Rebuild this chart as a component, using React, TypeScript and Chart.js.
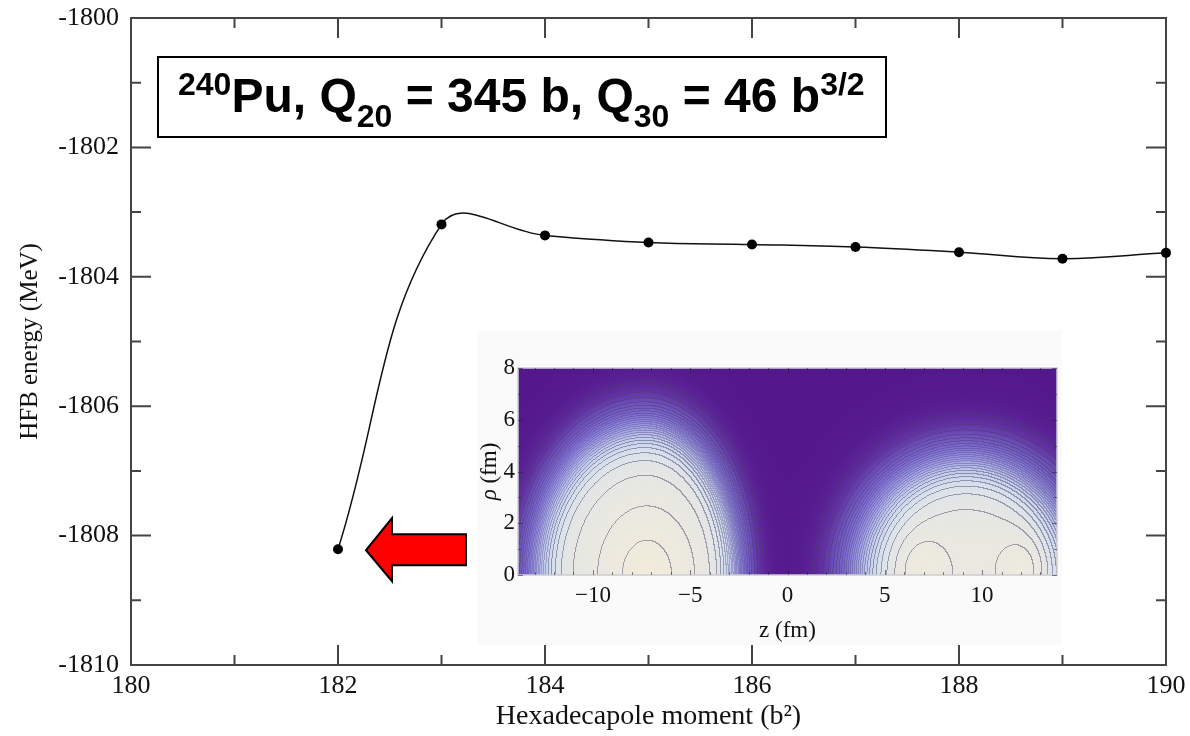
import { useEffect, useRef } from 'react';
import { Chart, registerables } from 'chart.js';

Chart.register(...registerables);

// HFB energy along the hexadecapole path
const moments = [182, 183, 184, 185, 186, 187, 188, 189, 190];
const energies = [-1808.21, -1803.19, -1803.36, -1803.47, -1803.5, -1803.54, -1803.62, -1803.72, -1803.63];

const xTickValues = [180, 182, 184, 186, 188, 190];
const yTickValues = [-1810, -1808, -1806, -1804, -1802, -1800];
const xMinorValues = [180, 181, 182, 183, 184, 185, 186, 187, 188, 189, 190];
const yMinorValues = [-1810, -1809, -1808, -1807, -1806, -1805, -1804, -1803, -1802, -1801, -1800];

// Inset: density of the two fragments in the (z, rho) plane
const zTickValues = [-10, -5, 0, 5, 10];
const rhoTickValues = [0, 2, 4, 6, 8];
const zMinorValues = [-13, -12, -11, -10, -9, -8, -7, -6, -5, -4, -3, -2, -1, 0, 1, 2, 3, 4, 5, 6, 7, 8, 9, 10, 11, 12, 13];
const rhoMinorValues = [0, 1, 2, 3, 4, 5, 6, 7, 8];

const fragmentCenter = [-7.3, 9.2];
const fragmentOuterRho = [7.42, 6.18];
const fragmentOuterZLeft = [7.3, 7.8];
const fragmentOuterZRight = [6.1, 7.8];
const fragmentSurfaceWidth = [0.066, 0.081];

const bumpZ = [-7.2, 6.9, 12.2, 9.3];
const bumpRho = [0, 0.2, 0.3, 0];
const bumpAmp = [0.1, 0.055, 0.055, 0.03];
const bumpSigmaZ = [1.9, 0.9, 0.9, 3.5];
const bumpSigmaRho = [2.0, 0.9, 0.9, 2.2];

const contourStep = 0.04;

const cmapStops = [0, 0.04, 0.15, 0.35, 0.55, 0.75, 0.9, 0.98, 1.1];
const cmapColors = [
  [84, 24, 140],
  [92, 40, 152],
  [108, 78, 185],
  [128, 112, 212],
  [155, 152, 228],
  [190, 200, 236],
  [214, 224, 236],
  [228, 230, 229],
  [240, 235, 219],
];

const SERIF = '"Liberation Serif", "Times New Roman", serif';
const SANS = '"Liberation Sans", Arial, sans-serif';

function density(z: number, r: number): number {
  let f = 0;
  for (let k = 0; k < fragmentCenter.length; k++) {
    const dz = z - fragmentCenter[k];
    const az = dz < 0 ? fragmentOuterZLeft[k] : fragmentOuterZRight[k];
    const d = Math.sqrt((dz / az) ** 2 + (r / fragmentOuterRho[k]) ** 2);
    const w = fragmentSurfaceWidth[k];
    const dHalf = 1 - w * Math.log(1 / contourStep - 1);
    f += 1 / (1 + Math.exp((d - dHalf) / w));
  }
  let b = 1;
  for (let k = 0; k < bumpZ.length; k++) {
    const dz = z - bumpZ[k];
    const dr = r - bumpRho[k];
    b += bumpAmp[k] * Math.exp(-(dz * dz) / (2 * bumpSigmaZ[k] ** 2) - (dr * dr) / (2 * bumpSigmaRho[k] ** 2));
  }
  return f * b;
}

function colorAt(f: number): number[] {
  if (f <= cmapStops[0]) return cmapColors[0];
  for (let i = 1; i < cmapStops.length; i++) {
    if (f <= cmapStops[i]) {
      const t = (f - cmapStops[i - 1]) / (cmapStops[i] - cmapStops[i - 1]);
      const a = cmapColors[i - 1];
      const b = cmapColors[i];
      return [a[0] + (b[0] - a[0]) * t, a[1] + (b[1] - a[1]) * t, a[2] + (b[2] - a[2]) * t];
    }
  }
  return cmapColors[cmapColors.length - 1];
}

const densityPlugin = {
  id: 'densityField',
  beforeDraw(chart: any) {
    const { ctx, width, height } = chart;
    ctx.save();
    ctx.fillStyle = '#fafafa';
    ctx.fillRect(0, 0, width, height);
    ctx.restore();
  },
  beforeDatasetsDraw(chart: any) {
    const { ctx, chartArea: a, scales } = chart;
    const x0 = Math.round(a.left);
    const y0 = Math.round(a.top);
    const w = Math.round(a.right) - x0;
    const h = Math.round(a.bottom) - y0;
    const W = w + 1;
    const F = new Float32Array(W * (h + 1));
    for (let j = 0; j <= h; j++) {
      const r = Math.max(0, scales.y.getValueForPixel(y0 + j + 0.5));
      for (let i = 0; i <= w; i++) {
        const z = scales.x.getValueForPixel(x0 + i + 0.5);
        F[j * W + i] = density(z, r);
      }
    }
    const img = ctx.createImageData(w, h);
    const data = img.data;
    const lineCol = [70, 60, 100];
    for (let j = 0; j < h; j++) {
      for (let i = 0; i < w; i++) {
        const f = F[j * W + i];
        const fr = F[j * W + i + 1];
        const fb = F[(j + 1) * W + i];
        let c = colorAt(f);
        const L = Math.floor(f / contourStep);
        if (L !== Math.floor(fr / contourStep) || L !== Math.floor(fb / contourStep)) {
          const g = Math.sqrt((fr - f) ** 2 + (fb - f) ** 2) / contourStep;
          const spacing = g > 0 ? 1 / g : 10;
          const alpha = 0.45 * Math.min(1, Math.max(0.55, spacing / 3));
          c = [c[0] + (lineCol[0] - c[0]) * alpha, c[1] + (lineCol[1] - c[1]) * alpha, c[2] + (lineCol[2] - c[2]) * alpha];
        }
        const p = (j * w + i) * 4;
        data[p] = c[0];
        data[p + 1] = c[1];
        data[p + 2] = c[2];
        data[p + 3] = 255;
      }
    }
    ctx.putImageData(img, x0, y0);

    // light frame and small inward ticks
    ctx.save();
    ctx.strokeStyle = 'rgba(205,205,210,1)';
    ctx.lineWidth = 1.5;
    ctx.strokeRect(a.left, a.top, a.right - a.left, a.bottom - a.top);
    ctx.strokeStyle = 'rgba(40,30,60,0.55)';
    ctx.lineWidth = 1;
    ctx.beginPath();
    for (const v of zMinorValues) {
      const px = Math.round(scales.x.getPixelForValue(v)) + 0.5;
      const len = zTickValues.includes(v) ? 5 : 3;
      ctx.moveTo(px, a.bottom);
      ctx.lineTo(px, a.bottom - len);
      ctx.moveTo(px, a.top);
      ctx.lineTo(px, a.top + len);
    }
    for (const v of rhoMinorValues) {
      const py = Math.round(scales.y.getPixelForValue(v)) + 0.5;
      const len = rhoTickValues.includes(v) ? 5 : 3;
      ctx.moveTo(a.left, py);
      ctx.lineTo(a.left + len, py);
      ctx.moveTo(a.right, py);
      ctx.lineTo(a.right - len, py);
    }
    ctx.stroke();

    // rotated axis title with italic rho
    ctx.fillStyle = '#111';
    ctx.translate(12, (a.top + a.bottom) / 2);
    ctx.rotate(-Math.PI / 2);
    ctx.textBaseline = 'middle';
    ctx.font = `italic 23px ${SERIF}`;
    const rho = 'ρ';
    const rest = ' (fm)';
    const w1 = ctx.measureText(rho).width;
    ctx.font = `23px ${SERIF}`;
    const w2 = ctx.measureText(rest).width;
    let x = -(w1 + w2) / 2;
    ctx.font = `italic 23px ${SERIF}`;
    ctx.fillText(rho, x, 0);
    x += w1;
    ctx.font = `23px ${SERIF}`;
    ctx.fillText(rest, x, 0);
    ctx.restore();
  },
};

const frameTicksPlugin = {
  id: 'frameTicks',
  beforeDatasetsDraw(chart: any) {
    const { ctx, chartArea: a, scales } = chart;
    ctx.save();
    ctx.strokeStyle = '#444';
    ctx.lineWidth = 2;
    ctx.strokeRect(a.left, a.top, a.right - a.left, a.bottom - a.top);
    ctx.beginPath();
    for (const v of xMinorValues) {
      const px = scales.x.getPixelForValue(v);
      const len = xTickValues.includes(v) ? 20 : 10;
      ctx.moveTo(px, a.bottom);
      ctx.lineTo(px, a.bottom - len);
      ctx.moveTo(px, a.top);
      ctx.lineTo(px, a.top + len);
    }
    for (const v of yMinorValues) {
      const py = scales.y.getPixelForValue(v);
      const len = yTickValues.includes(v) ? 20 : 10;
      ctx.moveTo(a.left, py);
      ctx.lineTo(a.left + len, py);
      ctx.moveTo(a.right, py);
      ctx.lineTo(a.right - len, py);
    }
    ctx.stroke();
    ctx.restore();
  },
  afterDraw(chart: any) {
    const { ctx, scales } = chart;
    ctx.save();
    // caption box
    const bx = 158, by = 57, bw = 728, bh = 80;
    ctx.fillStyle = '#fff';
    ctx.fillRect(bx, by, bw, bh);
    ctx.strokeStyle = '#000';
    ctx.lineWidth = 2;
    ctx.strokeRect(bx, by, bw, bh);
    const parts: [string, string][] = [
      ['240', 'sup'],
      ['Pu, Q', 'main'],
      ['20', 'sub'],
      [' = 345 b, Q', 'main'],
      ['30', 'sub'],
      [' = 46 b', 'main'],
      ['3/2', 'sup'],
    ];
    const base = 112;
    let x = 178;
    ctx.fillStyle = '#000';
    ctx.textBaseline = 'alphabetic';
    for (const [t, kind] of parts) {
      ctx.font = kind === 'main' ? `bold 48px ${SANS}` : `bold 32px ${SANS}`;
      const y = kind === 'sup' ? base - 17 : kind === 'sub' ? base + 15 : base;
      ctx.fillText(t, x, y);
      x += ctx.measureText(t).width;
    }

    // red arrow pointing at the first configuration
    const tipX = scales.x.getPixelForValue(moments[0]) + 28;
    const tipY = scales.y.getPixelForValue(energies[0]) + 1;
    ctx.beginPath();
    ctx.moveTo(tipX, tipY);
    ctx.lineTo(tipX + 26, tipY - 32);
    ctx.lineTo(tipX + 26, tipY - 16);
    ctx.lineTo(tipX + 100, tipY - 16);
    ctx.lineTo(tipX + 100, tipY + 15);
    ctx.lineTo(tipX + 26, tipY + 15);
    ctx.lineTo(tipX + 26, tipY + 31);
    ctx.closePath();
    ctx.fillStyle = '#ff0000';
    ctx.fill();
    ctx.strokeStyle = '#000';
    ctx.lineWidth = 2;
    ctx.lineJoin = 'miter';
    ctx.stroke();
    ctx.restore();
  },
};

export default function App() {
  const mainRef = useRef<HTMLCanvasElement>(null);
  const insetRef = useRef<HTMLCanvasElement>(null);

  useEffect(() => {
    const main = new Chart(mainRef.current as HTMLCanvasElement, {
      type: 'line',
      data: {
        datasets: [
          {
            data: moments.map((m, i) => ({ x: m, y: energies[i] })),
            borderColor: '#111',
            borderWidth: 1.5,
            pointRadius: 5,
            pointBackgroundColor: '#000',
            pointBorderWidth: 0,
            tension: 0.4,
            clip: false as any,
            fill: false,
          },
        ],
      },
      options: {
        animation: false,
        responsive: false,
        events: [],
        layout: { padding: { top: 18, right: 24, left: 0, bottom: 0 } },
        plugins: { legend: { display: false }, tooltip: { enabled: false } },
        scales: {
          x: {
            type: 'linear',
            min: 180,
            max: 190,
            afterBuildTicks: (s: any) => {
              s.ticks = xTickValues.map((v) => ({ value: v }));
            },
            afterFit: (s: any) => {
              s.height = 71;
              s.paddingLeft = 0;
              s.paddingRight = 0;
            },
            grid: { display: false, drawTicks: false },
            border: { display: false },
            ticks: {
              font: { family: SERIF, size: 26 },
              color: '#111',
              padding: 6,
              maxRotation: 0,
              autoSkip: false,
              callback: (v: any) => String(v),
            },
            title: {
              display: true,
              text: 'Hexadecapole moment (b²)',
              font: { family: SERIF, size: 28 },
              color: '#111',
              padding: { top: 0, bottom: 3 },
            },
          },
          y: {
            type: 'linear',
            min: -1810,
            max: -1800,
            afterBuildTicks: (s: any) => {
              s.ticks = yTickValues.map((v) => ({ value: v }));
            },
            afterFit: (s: any) => {
              s.width = 131;
              s.paddingTop = 0;
              s.paddingBottom = 0;
            },
            grid: { display: false, drawTicks: false },
            border: { display: false },
            ticks: {
              font: { family: SERIF, size: 26 },
              color: '#111',
              padding: 12,
              autoSkip: false,
              callback: (v: any) => String(v),
            },
            title: {
              display: true,
              text: 'HFB energy (MeV)',
              font: { family: SERIF, size: 25 },
              color: '#111',
              padding: { top: 15, bottom: 0 },
            },
          },
        },
      },
      plugins: [frameTicksPlugin],
    });

    const inset = new Chart(insetRef.current as HTMLCanvasElement, {
      type: 'scatter',
      data: { datasets: [{ data: [] }] },
      options: {
        animation: false,
        responsive: false,
        events: [],
        layout: { padding: { top: 38, right: 5, left: 0, bottom: 0 } },
        plugins: { legend: { display: false }, tooltip: { enabled: false } },
        scales: {
          x: {
            type: 'linear',
            min: -13.85,
            max: 13.85,
            afterBuildTicks: (s: any) => {
              s.ticks = zTickValues.map((v) => ({ value: v }));
            },
            afterFit: (s: any) => {
              s.height = 70;
              s.paddingLeft = 0;
              s.paddingRight = 0;
            },
            grid: { display: false, drawTicks: false },
            border: { display: false },
            ticks: {
              font: { family: SERIF, size: 23 },
              color: '#111',
              padding: 7,
              maxRotation: 0,
              autoSkip: false,
              callback: (v: any) => (v < 0 ? '−' + Math.abs(v) : String(v)),
            },
            title: {
              display: true,
              text: 'z (fm)',
              font: { family: SERIF, size: 23 },
              color: '#111',
              padding: { top: 0, bottom: 0 },
            },
          },
          y: {
            type: 'linear',
            min: 0,
            max: 8,
            afterBuildTicks: (s: any) => {
              s.ticks = rhoTickValues.map((v) => ({ value: v }));
            },
            afterFit: (s: any) => {
              s.width = 40;
              s.paddingTop = 0;
              s.paddingBottom = 0;
            },
            grid: { display: false, drawTicks: false },
            border: { display: false },
            ticks: {
              font: { family: SERIF, size: 23 },
              color: '#111',
              padding: 3,
              autoSkip: false,
              callback: (v: any) => String(v),
            },
          },
        },
      },
      plugins: [densityPlugin],
    });

    return () => {
      main.destroy();
      inset.destroy();
    };
  }, []);

  return (
    <div style={{ position: 'absolute', left: 0, top: 0, width: 1190, height: 736, background: '#fff' }}>
      <canvas
        ref={mainRef}
        width={1190}
        height={736}
        style={{ position: 'absolute', left: 0, top: 0, width: 1190, height: 736 }}
      />
      <canvas
        ref={insetRef}
        width={584}
        height={315}
        style={{ position: 'absolute', left: 478, top: 330, width: 584, height: 315 }}
      />
    </div>
  );
}
